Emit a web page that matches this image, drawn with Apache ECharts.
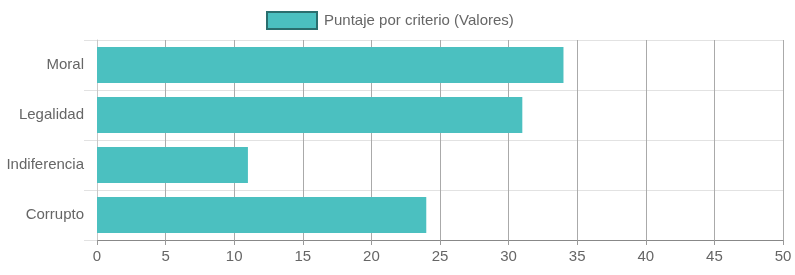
<!DOCTYPE html>
<html>
<head>
<meta charset="utf-8">
<script src="https://cdn.jsdelivr.net/npm/echarts@6/dist/echarts.min.js"></script>
<style>html,body{margin:0;padding:0;background:#fff;}#c{width:795px;height:275px;}</style>
</head>
<body>
<div id="c"></div>
<script>
var categories = ["Moral", "Legalidad", "Indiferencia", "Corrupto"];
var values = [34, 31, 11, 24];
var seriesName = "Puntaje por criterio (Valores)";
var xTicks = [0, 5, 10, 15, 20, 25, 30, 35, 40, 45, 50];

var chart = echarts.init(document.getElementById('c'), null, {renderer: 'canvas'});
var font = "'Liberation Sans', Arial, Helvetica, sans-serif";
chart.setOption({
  animation: false,
  textStyle: {fontFamily: font},
  legend: {
    show: true,
    left: 266,
    top: 11,
    padding: 0,
    itemWidth: 50,
    itemHeight: 17,
    icon: 'rect',
    itemStyle: {borderColor: '#2a6e6e', borderWidth: 2},
    textStyle: {color: '#666', fontSize: 15, fontFamily: font, padding: [0, 0, 0, 2]},
    data: [seriesName]
  },
  grid: {left: 97, right: 12, top: 40, bottom: 35, containLabel: false},
  xAxis: {
    type: 'value',
    min: xTicks[0],
    max: xTicks[xTicks.length - 1],
    interval: 5,
    axisLine: {show: true, lineStyle: {color: '#888', width: 1}},
    axisTick: {show: true, length: 5, lineStyle: {color: '#999'}},
    splitLine: {show: true, lineStyle: {color: '#aaa', width: 1}},
    axisLabel: {color: '#666', fontSize: 15, fontFamily: font, margin: 9}
  },
  yAxis: {
    type: 'category',
    inverse: true,
    data: categories,
    axisLine: {show: true, lineStyle: {color: '#c8c8c8', width: 1}},
    axisTick: {show: true, length: 13, lineStyle: {color: '#e2e2e2'}},
    splitLine: {show: true, lineStyle: {color: '#e2e2e2', width: 1}},
    axisLabel: {color: '#666', fontSize: 15, fontFamily: font, margin: 13}
  },
  series: [{
    name: seriesName,
    type: 'bar',
    data: values,
    barWidth: 36,
    itemStyle: {color: '#4bc0c0'}
  }]
});
</script>
</body>
</html>
